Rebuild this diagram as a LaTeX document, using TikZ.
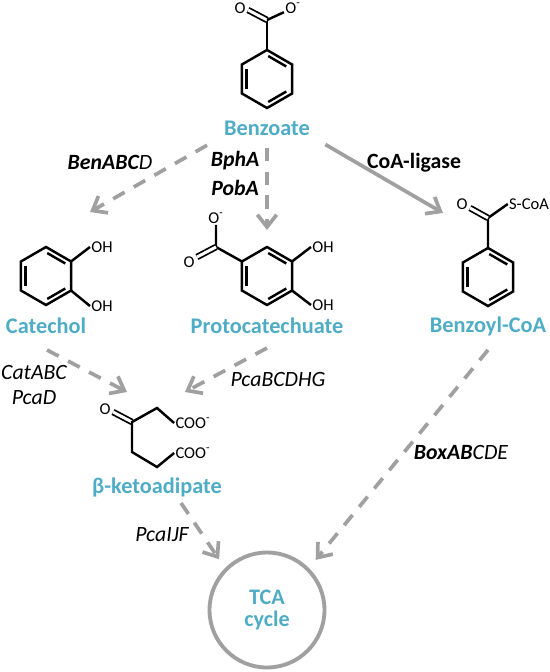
\documentclass[tikz,border=0pt]{standalone}
\usepackage{fontspec}
\setmainfont{Carlito}
\usetikzlibrary{arrows.meta,positioning,calc}
\definecolor{metcol}{RGB}{79,172,197}
\definecolor{flowcol}{RGB}{160,160,160}
\tikzset{
    compound/.style={font=\fontsize{12.7}{14}\selectfont\bfseries,text=metcol,inner sep=0pt},
    enzyme/.style={font=\fontsize{12.4}{14}\selectfont\itshape,inner sep=0pt},
    boldenzyme/.style={enzyme,font=\fontsize{12.4}{14}\selectfont\itshape\bfseries},
    atomlab/.style={font=\fontsize{9.4}{11}\selectfont,inner sep=0.6pt},
    bond/.style={line width=1.4pt,line join=miter},
    dblbond/.style={double,double distance=1.7pt,line width=1pt},
    flow/.style={->,line width=2.1pt,flowcol},
    dashflow/.style={flow,dash pattern=on 7.5pt off 6pt}
}
\newcommand{\benzring}[1]{
    \begin{scope}[shift={(#1)}]
        \draw[bond] (90:29) -- (30:29) -- (-30:29) -- (-90:29) -- (-150:29) -- (150:29) -- cycle;
        \foreach \a in {60,180,-60} {
            \draw[bond] (\a+27:23) -- (\a-27:23);
        }
    \end{scope}
}

\begin{document}
\begin{tikzpicture}[>={Straight Barb[length=7pt,width=11pt]},x=0.02cm,y=-0.02cm]
    \useasboundingbox (0,0) rectangle (549,672);

    % Compound names
    \node[compound] (benzoate) at (267,128) {Benzoate};
    \node[compound] (catechol) at (46,326) {Catechol};
    \node[compound] (proto) at (267,326) {Protocatechuate};
    \node[compound] (benzoyl) at (488,326) {Benzoyl-CoA};
    \node[compound] (keto) at (157,487) {β-ketoadipate};
    \node[circle,draw=flowcol,line width=2.2pt,minimum size=23mm,align=center,
          font=\fontsize{12.6}{12.6}\selectfont\bfseries,text=metcol] (tca) at (267,610) {TCA\\cycle};

    % Benzoate
    \benzring{267,79}
    \node[atomlab] (benzoateO) at (240,8) {O};
    \node[atomlab] (benzoateOm) at (293,8) {O\textsuperscript{-}};
    \coordinate (benzoateC) at (267,20);
    \draw[bond] (267,50) -- (benzoateC);
    \draw[dblbond] (benzoateC) -- (248,10);
    \draw[bond] (benzoateC) -- (benzoateOm);

    % Catechol
    \benzring{46,276}
    \node[atomlab] (catecholOHa) at (102,247) {OH};
    \node[atomlab] (catecholOHb) at (102,306) {OH};
    \draw[bond] (71,261.5) -- (catecholOHa.west);
    \draw[bond] (71,290.5) -- (catecholOHb.west);

    % Protocatechuate
    \benzring{267,276}
    \node[atomlab] (protoOm) at (216,218) {O\textsuperscript{-}};
    \node[atomlab] (protoO) at (189,262) {O};
    \node[atomlab] (protoOHa) at (323,247) {OH};
    \node[atomlab] (protoOHb) at (323,305) {OH};
    \coordinate (protoC) at (216,247);
    \draw[bond] (242,261.5) -- (protoC) -- (protoOm);
    \draw[dblbond] (protoC) -- (197,257);
    \draw[bond] (292,261.5) -- (protoOHa.west);
    \draw[bond] (292,290.5) -- (protoOHb.west);

    % Benzoyl-CoA
    \benzring{488,277}
    \node[atomlab] (benzoylO) at (462,204) {O};
    \node[atomlab] (benzoylS) at (529,204) {S-CoA};
    \coordinate (benzoylC) at (488,218);
    \draw[bond] (488,248) -- (benzoylC) -- (benzoylS.west);
    \draw[dblbond] (benzoylC) -- (470,208);

    % beta-ketoadipate
    \node[atomlab] (ketoO) at (105,409) {O};
    \node[atomlab] (cooa) at (193,423) {COO\textsuperscript{-}};
    \node[atomlab] (coob) at (193,453) {COO\textsuperscript{-}};
    \draw[dblbond] (132,422) -- (113,412);
    \draw[bond] (cooa.west) -- (157,408) -- (132,422) -- (132,452) -- (157,467) -- (coob.west);

    % Enzyme labels
    \node[enzyme] (ben) at (110,162) {\bfseries BenABC\mdseries D};
    \node[boldenzyme] (bph) at (235,161) {BphA};
    \node[boldenzyme] (pob) at (235,188) {PobA};
    \node[enzyme,font=\fontsize{12.4}{14}\selectfont\bfseries] (ligase) at (414,163) {CoA-ligase};
    \node[enzyme] (cat) at (34,373) {CatABC};
    \node[enzyme] (pcad) at (34,398) {PcaD};
    \node[enzyme] (pcab) at (278,380) {PcaBCDHG};
    \node[enzyme] (box) at (461,453) {\bfseries BoxAB\mdseries CDE};
    \node[enzyme] (pcai) at (162,535) {PcaIJF};

    % Ends of the pathway arrows
    \coordinate (catecholTip) at (90,212);
    \coordinate (protoTip) at (267,230);
    \coordinate (benzoylTip) at (443,213);
    \coordinate (catecholTail) at (47,350);
    \coordinate (protoTail) at (267,348);
    \coordinate (benzoylTail) at (488,350);
    \coordinate (ketoTail) at (181,503);
    \coordinate (ketoTipL) at (127,392);
    \coordinate (ketoTipR) at (185,392);

    % Pathway arrows
    \draw[dashflow,shorten <=11pt] (benzoate.south west) -- (catecholTip);
    \draw[dashflow,shorten <=7pt] (benzoate.south) -- (protoTip);
    \draw[flow,shorten <=10pt] (benzoate.south east) -- (benzoylTip);
    \draw[dashflow] (catecholTail) -- (ketoTipL);
    \draw[dashflow] (protoTail) -- (ketoTipR);
    \draw[dashflow,shorten >=6pt] (ketoTail) -- (tca.135);
    \draw[dashflow,shorten >=6pt] (benzoylTail) -- (tca.45);
\end{tikzpicture}
\end{document}
